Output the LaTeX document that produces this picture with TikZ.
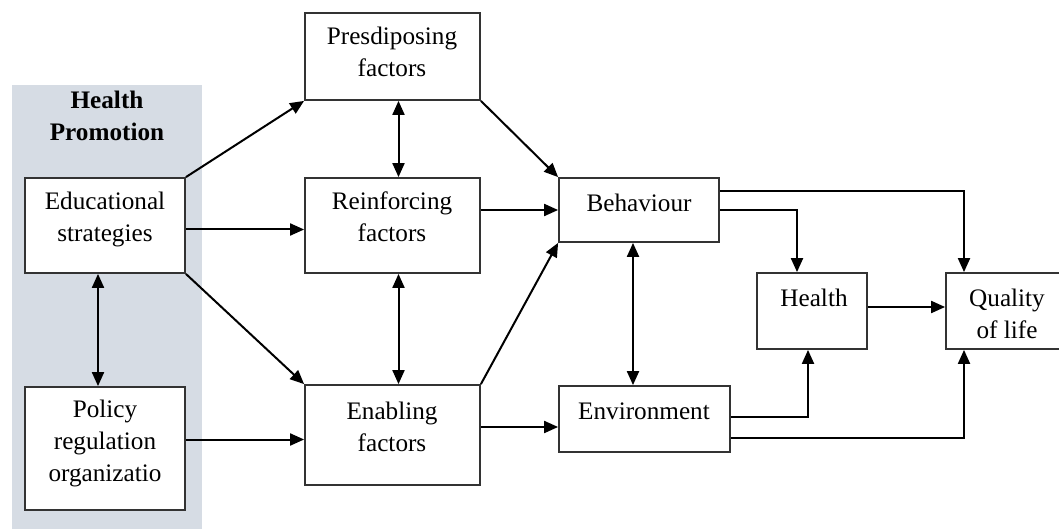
\documentclass[tikz,border=0pt]{standalone}
\usepackage{fontspec}
\setmainfont{Liberation Serif}
\usepackage{xcolor}
\usetikzlibrary{arrows.meta,positioning,calc}

\definecolor{panelgray}{HTML}{D6DCE4}
\definecolor{edgegray}{HTML}{333333}

\tikzset{
  blk/.style={draw=edgegray,line width=0.9pt,fill=white,inner sep=0pt},
  txt/.style={align=center,inner sep=0pt,font=\fontsize{12.6}{16}\selectfont},
  link/.style={-{Triangle[length=7pt,width=6pt]},line width=1pt},
  dlink/.style={{Triangle[length=7pt,width=6pt]}-{Triangle[length=7pt,width=6pt]},line width=1pt},
}

\begin{document}
\begin{tikzpicture}[x=0.5pt,y=-0.5pt]
\useasboundingbox (0,0) rectangle (1059,529);
% health promotion panel
\fill[panelgray] (12,85) rectangle (202,529);
\node[txt,font=\fontsize{12.6}{16}\selectfont\bfseries] (hp) at (107,116) {Health\\Promotion};

% boxes
\node[blk,minimum width=80pt,minimum height=47.5pt] (edu) at (105,225.5) {};
\node[blk,minimum width=80pt,minimum height=61.5pt] (pol) at (105,448.5) {};
\node[blk,minimum width=87.5pt,minimum height=43.5pt] (pre) at (392.5,56.5) {};
\node[blk,minimum width=87.5pt,minimum height=47.5pt] (rei) at (392.5,225.5) {};
\node[blk,minimum width=87.5pt,minimum height=50pt] (ena) at (392.5,435) {};
\node[blk,minimum width=80pt,minimum height=32pt] (beh) at (639,210) {};
\node[blk,minimum width=85.5pt,minimum height=33pt] (env) at (644.5,419) {};
\node[blk,minimum width=55pt,minimum height=38pt] (hea) at (812,311) {};
\node[blk,minimum width=61pt,minimum height=38pt] (qol) at (1007,311) {};

% box texts
\node[txt] (edu-t) at (105,219) {Educational\\strategies};
\node[txt] (pol-t) at (105,443) {Policy\\regulation\\organizatio};
\node[txt] (pre-t) at (392,52) {Presdiposing\\factors};
\node[txt] (rei-t) at (392,217) {Reinforcing\\factors};
\node[txt] (ena-t) at (392,427) {Enabling\\factors};
\node[txt] (beh-t) at (639,203) {Behaviour};
\node[txt] (env-t) at (644,411) {Environment};
\node[txt] (hea-t) at (814,298) {Health};
\node[txt] (qol-t) at (1007,314) {Quality\\of life};

% connectors
\draw[dlink] ([xshift=-3.5pt]edu.south) -- ([xshift=-3.5pt]pol.north);
\draw[link] (edu.north east) -- (pre.south west);
\draw[link] ([yshift=-2pt]edu.east) -- ([yshift=-2pt]rei.west);
\draw[link] (edu.south east) -- (ena.north west);
\draw[link] ([yshift=4.5pt]pol.east) -- ([yshift=4.5pt]pol.east -| ena.west);
\draw[dlink] ([xshift=3pt]pre.south) -- ([xshift=3pt]rei.north);
\draw[dlink] ([xshift=3pt]rei.south) -- ([xshift=3pt]ena.north);
\draw[link] (pre.south east) -- (beh.north west);
\draw[link] (rei.east |- beh.west) -- (beh.west);
\draw[link] (ena.north east) -- (beh.south west);
\draw[link] ([yshift=-4pt]env.west -| ena.east) -- ([yshift=-4pt]env.west);
\draw[dlink] ([xshift=-3pt]beh.south) -- ([xshift=-3pt]beh.south |- env.north);
\draw[link] ([yshift=9.5pt]beh.east) -| ([xshift=-21.5pt]qol.north);
\draw[link] (beh.east) -| ([xshift=-7.5pt]hea.north);
\draw[link] ([yshift=2pt]hea.east) -- ([yshift=2pt]qol.west);
\draw[link] ([yshift=1pt]env.east) -| ([xshift=-2pt]hea.south);
\draw[link] ([yshift=-9.5pt]env.east) -| ([xshift=-21.5pt]qol.south);
\end{tikzpicture}
\end{document}
